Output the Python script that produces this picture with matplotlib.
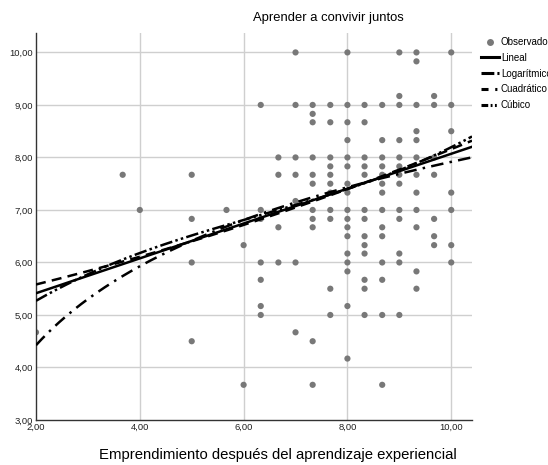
import numpy as np
import matplotlib
matplotlib.use("Agg")
import matplotlib.pyplot as plt
from matplotlib.lines import Line2D

plt.rcParams['font.family'] = ['Liberation Sans', 'DejaVu Sans']

# ---- data: observed points, grouped by x value ----
col_x = [2.00, 3.67, 4.00, 5.00, 5.67, 6.00, 6.33, 6.67, 7.00, 7.33,
         7.67, 8.00, 8.33, 8.67, 9.00, 9.33, 9.67, 10.00]
col_y = [
    [4.67],
    [7.67],
    [7.00],
    [7.67, 6.83, 6.00, 4.50],
    [7.00],
    [6.33, 3.67],
    [9.00, 7.00, 6.83, 6.00, 5.67, 5.17, 5.00],
    [8.00, 7.67, 6.67, 6.00],
    [10.00, 9.00, 8.00, 7.67, 7.17, 6.00, 4.67],
    [9.00, 8.83, 8.67, 8.00, 7.67, 7.50, 7.00, 6.83, 6.67, 4.50, 3.67],
    [9.00, 8.67, 8.00, 7.83, 7.67, 7.50, 7.33, 7.00, 6.83, 5.50, 5.00],
    [10.00, 9.00, 8.67, 8.33, 8.00, 7.83, 7.50, 7.33, 7.00, 6.83, 6.67,
     6.50, 6.17, 6.00, 5.83, 5.17, 4.17],
    [9.00, 8.67, 8.00, 7.83, 7.67, 7.00, 6.83, 6.50, 6.33, 6.17, 5.67,
     5.50, 5.00],
    [9.00, 8.33, 8.00, 7.83, 7.67, 7.50, 7.33, 7.00, 6.67, 6.50, 6.00,
     5.67, 5.00, 3.67],
    [10.00, 9.17, 9.00, 8.33, 8.00, 7.83, 7.67, 7.50, 7.00, 6.83, 6.17,
     6.00, 5.00],
    [10.00, 9.83, 9.00, 8.50, 8.33, 8.00, 7.67, 7.33, 7.00, 6.67, 5.83, 5.50],
    [9.17, 9.00, 8.00, 7.67, 6.83, 6.50, 6.33],
    [10.00, 9.00, 8.50, 7.33, 7.00, 6.33, 6.00],
]

# fitted-model coefficients (lowest order first)
lin_coef = [4.75, 0.332]                        # b0 + b1*x
log_coef = [2.92, 2.17]                         # b0 + b1*ln(x)
quad_coef = [5.129, 0.2065, 0.00964]            # b0 + b1*x + b2*x^2
cub_coef = [3.8365, 0.888, -0.09576, 0.005054]  # b0 + ... + b3*x^3

xticks = [2, 4, 6, 8, 10]
xtick_labels = ['2,00', '4,00', '6,00', '8,00', '10,00']
yticks = [3, 4, 5, 6, 7, 8, 9, 10]
ytick_labels = ['3,00', '4,00', '5,00', '6,00', '7,00', '8,00', '9,00', '10,00']

title = 'Aprender a convivir juntos'
xlabel = 'Emprendimiento después del aprendizaje experiencial'
legend_labels = ['Observado', 'Lineal', 'Logarítmico', 'Cuadrático', 'Cúbico']

x_obs = np.concatenate([[x] * len(ys) for x, ys in zip(col_x, col_y)])
y_obs = np.concatenate([np.array(ys, dtype=float) for ys in col_y])

# ---- figure ----
W, H = 548, 465
fig = plt.figure(figsize=(W / 100, H / 100), dpi=100)
ax = fig.add_axes([36 / W, (H - 420) / H, (472 - 36) / W, (420 - 33) / H])
xmin, xmax = 2.0, 10.40
ymin, ymax = 3.0, 10.37
ax.set_xlim(xmin, xmax)
ax.set_ylim(ymin, ymax)

grid_c = '#cfcfcf'
for gx in xticks[1:]:
    ax.axvline(gx, color=grid_c, lw=1.0, zorder=0)
for gy in yticks[1:]:
    ax.axhline(gy, color=grid_c, lw=1.0, zorder=0)

ax.scatter(x_obs, y_obs, s=20, color='#787878', edgecolors='none', zorder=2)

xs = np.linspace(xmin, xmax, 300)
y_lin = np.polynomial.polynomial.polyval(xs, lin_coef)
y_log = np.polynomial.polynomial.polyval(np.log(xs), log_coef)
y_quad = np.polynomial.polynomial.polyval(xs, quad_coef)
y_cub = np.polynomial.polynomial.polyval(xs, cub_coef)

lw = 1.8
ls_lin = '-'
ls_log = (0, (5, 2.5, 1, 2.5))
ls_quad = (0, (4, 2.5))
ls_cub = (0, (5, 1.3, 1, 1.3, 1, 1.3))
ax.plot(xs, y_lin, color='black', lw=lw, ls=ls_lin, zorder=3)
ax.plot(xs, y_log, color='black', lw=lw, ls=ls_log, zorder=3)
ax.plot(xs, y_quad, color='black', lw=lw, ls=ls_quad, zorder=3)
ax.plot(xs, y_cub, color='black', lw=lw, ls=ls_cub, zorder=3)

for s in ['top', 'right']:
    ax.spines[s].set_visible(False)
for s in ['left', 'bottom']:
    ax.spines[s].set_color('#333333')
    ax.spines[s].set_linewidth(1.0)

ax.set_xticks(xticks)
ax.set_xticklabels(xtick_labels)
ax.set_yticks(yticks)
ax.set_yticklabels(ytick_labels)
ax.tick_params(length=0, labelsize=6.8, colors='#222222', pad=2)

fig.text(328 / W, 1 - 18 / H, title, ha='center', va='center', fontsize=9.4)
fig.text(278 / W, 6 / H, xlabel, ha='center', va='baseline', fontsize=10.7)

hlw = 2.2
handles = [
    Line2D([], [], ls='none', marker='o', ms=5, color='#787878', mec='none'),
    Line2D([], [], color='black', lw=hlw, ls='-'),
    Line2D([], [], color='black', lw=hlw, ls=(0, (4.2, 1.0, 0.7, 2))),
    Line2D([], [], color='black', lw=hlw, ls=(0, (2.3, 2.2, 0.7, 2))),
    Line2D([], [], color='black', lw=hlw, ls=(0, (2.2, 0.8, 0.6, 0.8, 0.6, 2))),
]
fig.legend(handles, legend_labels, loc='upper left',
           bbox_to_anchor=(481 / W, 1 - 37 / H), frameon=False,
           fontsize=7, handlelength=1.9, handletextpad=0.15,
           labelspacing=0.6, borderpad=0, borderaxespad=0)

fig.savefig('out.png', dpi=100)
